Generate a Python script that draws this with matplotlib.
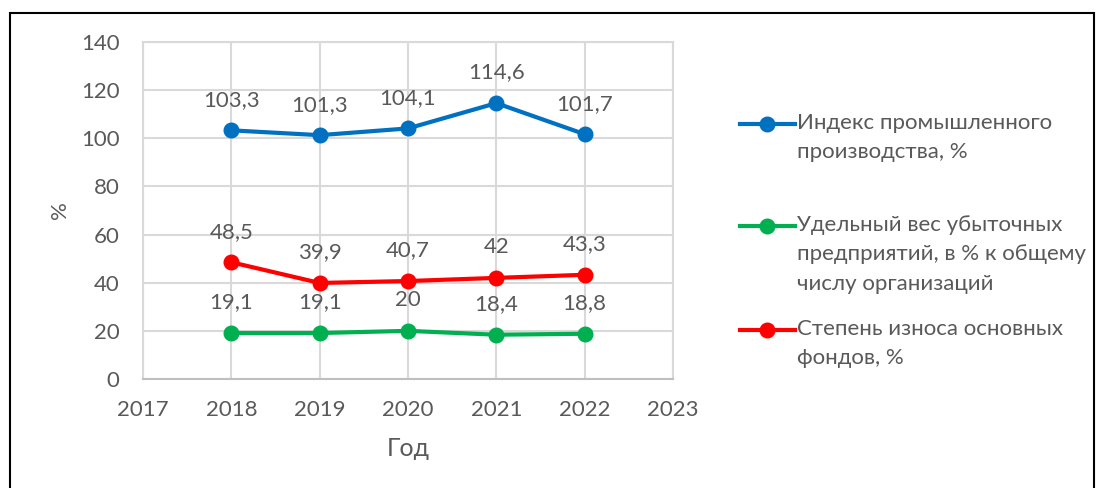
import matplotlib.pyplot as plt
from matplotlib.lines import Line2D
from matplotlib.patches import Rectangle

plt.rcParams['font.family'] = ['Lato', 'DejaVu Sans']

years = [2018, 2019, 2020, 2021, 2022]
industrial_index = [103.3, 101.3, 104.1, 114.6, 101.7]
loss_share = [19.1, 19.1, 20.0, 18.4, 18.8]
wear_degree = [48.5, 39.9, 40.7, 42.0, 43.3]

labels = ['Индекс промышленного\nпроизводства, %',
          'Удельный вес убыточных\nпредприятий, в % к общему\nчислу организаций',
          'Степень износа основных\nфондов, %']
colors = ['#0070C0', '#00B050', '#FF0000']
series = [industrial_index, loss_share, wear_degree]

text_color = '#595959'
grid_color = '#D9D9D9'
fs = 16

W, H = 1097, 488
fig = plt.figure(figsize=(W / 100, H / 100), dpi=100)
ax = fig.add_axes([143 / W, 1 - 379 / H, (673 - 143) / W, (379 - 42) / H])

for vals, c in zip(series, colors):
    ax.plot(years, vals, color=c, lw=3, marker='o', ms=10.5, zorder=3)
    for x, y in zip(years, vals):
        txt = f'{y:g}'.replace('.', ',')
        ax.annotate(txt, (x, y), xytext=(0, 22), textcoords='offset points',
                    ha='center', va='center', fontsize=fs, color=text_color)

ax.set_xlim(2017, 2023)
ax.set_ylim(0, 140)
ax.set_xticks(range(2017, 2024))
ax.set_yticks(range(0, 141, 20))
ax.grid(True, color=grid_color, lw=1.5)
ax.set_axisbelow(True)
for s in ax.spines.values():
    s.set_color(grid_color)
    s.set_linewidth(1.5)
ax.spines['bottom'].set_color('#BFBFBF')
ax.tick_params(length=0, labelsize=fs, labelcolor=text_color)
ax.tick_params(axis='y', pad=17)
ax.tick_params(axis='x', pad=15)

fig.text(60 / W, 1 - 210 / H, '%', rotation=90, ha='center', va='center',
         fontsize=fs, color=text_color)
fig.text(408 / W, 1 - 449 / H, 'Год', ha='center', va='center',
         fontsize=18, color=text_color)

# manual legend, marker aligned with the first line of each label
legend_y = [124, 226, 330]
for lab, c, ly in zip(labels, colors, legend_y):
    yf = 1 - ly / H
    fig.add_artist(Line2D([740 / W, 795 / W], [yf, yf], color=c, lw=3))
    fig.add_artist(Line2D([767 / W], [yf], color=c, marker='o', ms=10.5))
    fig.text(797 / W, 1 - (ly - 11) / H, lab, ha='left', va='top',
             fontsize=fs, color=text_color, linespacing=1.58)

fig.add_artist(Rectangle((9.5 / W, -0.05), (1094 - 9.5) / W, 1.05 - 13 / H,
                         transform=fig.transFigure, fill=False,
                         edgecolor='black', lw=1.5))

fig.savefig('out.png', dpi=100)
